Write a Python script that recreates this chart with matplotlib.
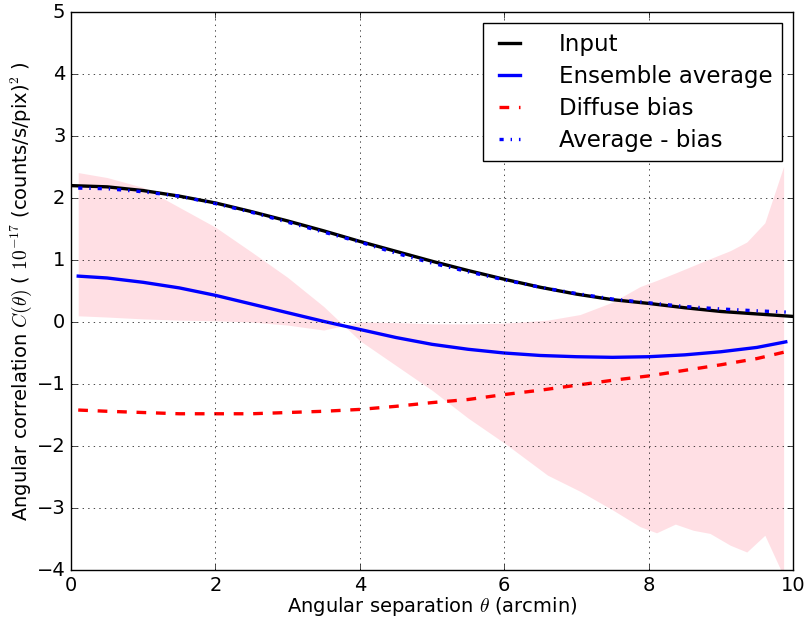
import numpy as np
import matplotlib
matplotlib.use("Agg")
import matplotlib.pyplot as plt

plt.style.use('classic')
plt.rcParams['mathtext.fontset'] = 'cm'
plt.rcParams['lines.scale_dashes'] = False

# input model, sampled 0..10 arcmin
theta_in = [0, 0.5, 1, 1.5, 2, 2.5, 3, 3.5, 4, 4.5, 5, 5.5, 6, 6.5, 7, 7.5, 8, 8.5, 9, 9.5, 10]
c_input = [2.20, 2.18, 2.12, 2.03, 1.92, 1.78, 1.63, 1.47, 1.30, 1.14, 0.98, 0.83,
           0.69, 0.56, 0.45, 0.36, 0.30, 0.23, 0.17, 0.13, 0.09]

# measured curves
theta = [0.1, 0.5, 1, 1.5, 2, 2.5, 3, 3.5, 4, 4.5, 5, 5.5, 6, 6.5, 7, 7.5, 8, 8.5, 9, 9.5, 9.9]
c_ens = [0.74, 0.71, 0.64, 0.55, 0.43, 0.29, 0.15, 0.01, -0.12, -0.25, -0.36, -0.44,
         -0.50, -0.54, -0.56, -0.57, -0.56, -0.53, -0.48, -0.41, -0.32]
c_bias = [-1.42, -1.44, -1.46, -1.48, -1.48, -1.48, -1.46, -1.44, -1.41, -1.36, -1.30, -1.25,
          -1.17, -1.10, -1.02, -0.94, -0.87, -0.78, -0.69, -0.59, -0.48]
c_corr = [2.16, 2.15, 2.10, 2.03, 1.91, 1.77, 1.61, 1.45, 1.29, 1.11, 0.95, 0.81,
          0.68, 0.56, 0.46, 0.37, 0.31, 0.25, 0.21, 0.18, 0.16]

# scatter envelope of the realisations
band_theta = [0.1, 0.5, 1.0, 1.5, 2.0, 2.5, 3.0, 3.5, 4.0, 4.5, 5.0, 5.5, 6.0, 6.6, 7.05,
              7.5, 7.88, 8.11, 8.37, 8.62, 8.85, 9.13, 9.36, 9.61, 9.87]
band_a = [2.41, 2.33, 2.17, 1.85, 1.53, 1.13, 0.72, 0.25, -0.30, -0.70, -1.10, -1.55, -1.95,
          -2.47, -2.73, -3.03, -3.30, -3.40, -3.26, -3.36, -3.41, -3.60, -3.71, -3.44, -4.10]
band_b = [0.10, 0.08, 0.05, 0.03, 0.02, 0.00, -0.05, -0.13, 0.00, -0.01, -0.03, -0.03, -0.02,
          0.03, 0.12, 0.32, 0.57, 0.67, 0.79, 0.91, 1.02, 1.15, 1.29, 1.60, 2.51]

fig = plt.figure(figsize=(8.06, 6.18), dpi=100, facecolor='white')
ax = fig.add_axes([71 / 806, 48 / 618, 722 / 806, 558 / 618])

ax.fill_between(band_theta, band_a, band_b, color='pink', alpha=0.5, linewidth=0)
ax.plot(theta_in, c_input, color='k', lw=2.4, label='Input')
ax.plot(theta, c_ens, color='b', lw=2.4, label='Ensemble average')
ax.plot(theta, c_bias, color='r', lw=2.4, dashes=(7, 7), label='Diffuse bias')
ax.plot(theta, c_corr, color='b', lw=2.4, dashes=(3, 5, 1, 5), label='Average - bias')

ax.set_xlim(0, 10)
ax.set_ylim(-4, 5)
ax.grid(True)
ax.tick_params(labelsize=14)
ax.set_xlabel(r'Angular separation $\theta$ (arcmin)', fontsize=14, labelpad=0)
ax.set_ylabel(r'Angular correlation $C(\theta)$ ( $10^{-17}$ (counts/s/pix)$^2$ )',
              fontsize=14, labelpad=2)

ax.legend(loc='upper right', fontsize=16.5, handlelength=1.5, handletextpad=1.4,
          labelspacing=0.4, borderaxespad=0.5)

fig.savefig('out.png', dpi=100, facecolor='white')
